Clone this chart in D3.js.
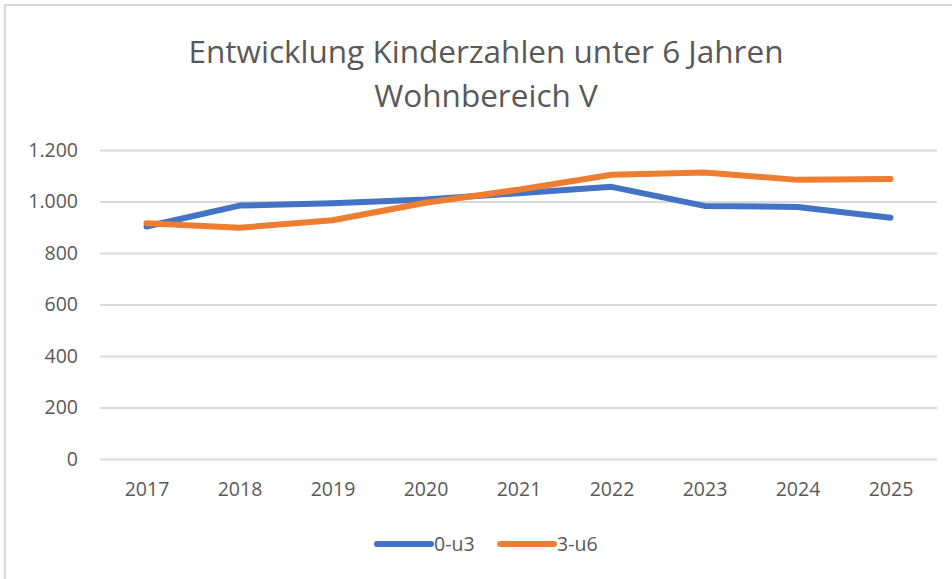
<!DOCTYPE html>
<html>
<head>
<meta charset="utf-8">
<script src="https://cdn.jsdelivr.net/npm/d3@7"></script>
<style>
  body { margin: 0; background: #fff; }
  svg text { font-family: "Open Sans", sans-serif; fill: #595959; }
</style>
</head>
<body>
<svg id="chart" width="952" height="579"></svg>
<script>
// data
const years = ["2017", "2018", "2019", "2020", "2021", "2022", "2023", "2024", "2025"]
const seriesNames = ["0-u3", "3-u6"]
const values0u3 = [903, 984, 993, 1008, 1032, 1057, 983, 979, 937]
const values3u6 = [916, 898, 927, 995, 1046, 1104, 1113, 1084, 1087]
const yTicks = [0, 200, 400, 600, 800, 1000, 1200]
const colors = ["#4472C4", "#ED7D31"]

const svg = d3.select("#chart")

// frame of the chart area (only top/left edge visible)
svg.append("rect")
    .attr("x", 5).attr("y", 5)
    .attr("width", 1000).attr("height", 1000)
    .attr("fill", "none")
    .attr("stroke", "#D9D9D9")
    .attr("stroke-width", 2)

// title
const title = svg.append("text")
    .attr("text-anchor", "middle")
    .style("font-size", "31.5px")
title.append("tspan").attr("x", 486).attr("y", 63).text("Entwicklung Kinderzahlen unter 6 Jahren")
title.append("tspan").attr("x", 486).attr("y", 107).text("Wohnbereich V")

const plotLeft = 100, plotRight = 937, plotTop = 150, plotBottom = 459

let x = d3.scalePoint()
    .domain(years)
    .range([plotLeft, plotRight])
    .padding(0.5)

let y = d3.scaleLinear()
    .domain([0, 1200])
    .range([plotBottom, plotTop])

const de = d3.formatLocale({decimal: ",", thousands: ".", grouping: [3], currency: ["", " €"]})

// y axis with gridlines
let yAxis = svg.append("g")
    .attr("transform", "translate(" + plotLeft + ",0)")
    .call(d3.axisLeft(y).tickValues(yTicks).tickSize(-(plotRight - plotLeft)).tickPadding(22).tickFormat(de.format(",")))
yAxis.select(".domain").remove()
yAxis.selectAll(".tick line").attr("stroke", "#D9D9D9").attr("stroke-width", 2)
yAxis.selectAll(".tick text").style("font-size", "19.5px").attr("fill", "#595959")

// x axis labels only
let xAxis = svg.append("g")
    .attr("transform", "translate(0," + plotBottom + ")")
    .call(d3.axisBottom(x).tickSize(0).tickPadding(23))
xAxis.select(".domain").remove()
xAxis.selectAll(".tick text").style("font-size", "19.5px").attr("fill", "#595959")

// lines
const line = d3.line()
    .x((d, i) => x(years[i]))
    .y(d => y(d))

const allSeries = [values0u3, values3u6]
allSeries.forEach((vals, i) => {
    svg.append("path")
        .datum(vals)
        .attr("d", line)
        .attr("fill", "none")
        .attr("stroke", colors[i])
        .attr("stroke-width", 6)
        .attr("stroke-linecap", "round")
        .attr("stroke-linejoin", "round")
})

// legend
const legendX = [377, 500]
seriesNames.forEach((name, i) => {
    let g = svg.append("g").attr("transform", "translate(" + legendX[i] + ",544)")
    g.append("line")
        .attr("x1", 0).attr("x2", 54)
        .attr("y1", 0).attr("y2", 0)
        .attr("stroke", colors[i])
        .attr("stroke-width", 6)
        .attr("stroke-linecap", "round")
    g.append("text")
        .attr("x", 57)
        .attr("y", 0)
        .attr("dy", "0.35em")
        .style("font-size", "19.5px")
        .text(name)
})
</script>
</body>
</html>
